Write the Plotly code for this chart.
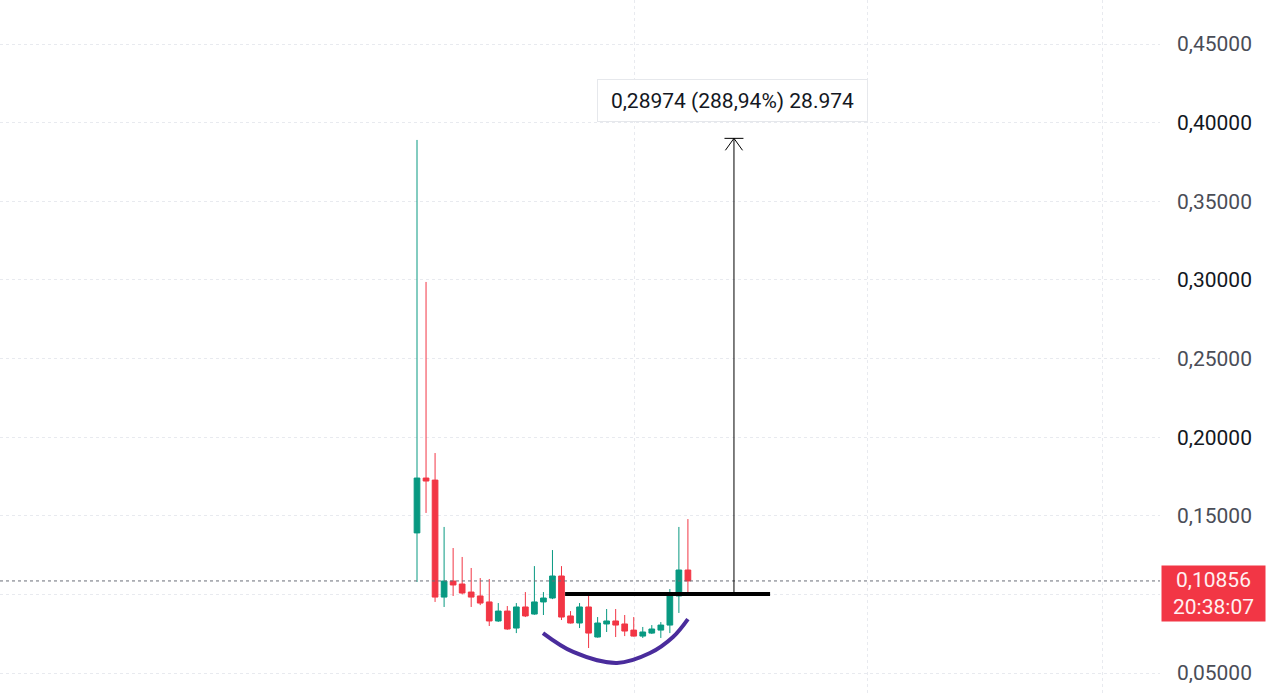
import plotly.graph_objects as go

# candle data (index = bar number)
bar_idx = list(range(31))
open_p = [0.1391, 0.1740, 0.1727, 0.0983, 0.1085, 0.1066, 0.1015, 0.0990, 0.0952, 0.0831,
          0.0894, 0.0786, 0.0920, 0.0875, 0.0952, 0.0977, 0.1117, 0.0863, 0.0818, 0.0920,
          0.0729, 0.0812, 0.0831, 0.0812, 0.0773, 0.0735, 0.0754, 0.0773, 0.0805, 0.0990,
          0.1155]
high_p = [0.3890, 0.2987, 0.1899, 0.1429, 0.1295, 0.1238, 0.1168, 0.1104, 0.1098, 0.0945,
          0.0926, 0.0945, 0.1015, 0.1180, 0.1015, 0.1282, 0.1180, 0.0894, 0.0945, 0.1002,
          0.0856, 0.0907, 0.0907, 0.0869, 0.0856, 0.0793, 0.0805, 0.0824, 0.1034, 0.1429,
          0.1479]
low_p = [0.1079, 0.1518, 0.0952, 0.0920, 0.0990, 0.1000, 0.0920, 0.0932, 0.0799, 0.0825,
         0.0775, 0.0754, 0.0856, 0.0870, 0.0869, 0.0970, 0.0837, 0.0815, 0.0786, 0.0659,
         0.0725, 0.0761, 0.0729, 0.0735, 0.0732, 0.0723, 0.0748, 0.0723, 0.0754, 0.0882,
         0.1009]
close_p = [0.1740, 0.1721, 0.0983, 0.1085, 0.1060, 0.1009, 0.0983, 0.0945, 0.0831, 0.0894,
           0.0780, 0.0920, 0.0863, 0.0952, 0.0977, 0.1117, 0.0856, 0.0818, 0.0920, 0.0754,
           0.0818, 0.0831, 0.0805, 0.0767, 0.0735, 0.0761, 0.0780, 0.0805, 0.0996, 0.1155,
           0.10856]

last_price = 0.10856
last_price_text = "0,10856<br>20:38:07"

# drawings
neckline_x = [16.4, 39.1]
neckline_y = 0.10028
measure_x = 35.1
measure_from = 0.10028
measure_to = 0.39002
measure_text = "0,28974 (288,94%) 28.974"

cup_x = [13.95, 17.3, 22.15, 25.8, 28.35, 30.0]
cup_y = [0.0754, 0.0634, 0.0564, 0.0627, 0.0729, 0.0843]

y_ticks = [0.05, 0.10, 0.15, 0.20, 0.25, 0.30, 0.35, 0.40, 0.45]
# 0,10000 sits behind the last-price label, so it is left blank
y_labels = ["0,05000", "", "0,15000", "0,20000", "0,25000",
            "0,30000", "0,35000", "0,40000", "0,45000"]
x_grid = [24.14, 49.94, 75.86]

green = "#089981"
red = "#F23645"

ticktext = []
for lab in y_labels:
    col = "#131722" if lab in ("0,20000", "0,30000", "0,40000") else "#4a4d57"
    ticktext.append(f'<span style="color:{col}">{lab}</span>' if lab else "")

fig = go.Figure()

fig.add_trace(go.Candlestick(
    x=bar_idx, open=open_p, high=high_p, low=low_p, close=close_p,
    increasing=dict(line=dict(color=green, width=1), fillcolor=green),
    decreasing=dict(line=dict(color=red, width=1), fillcolor=red),
    whiskerwidth=0,
    showlegend=False,
))

fig.add_trace(go.Scatter(
    x=cup_x, y=cup_y, mode="lines",
    line=dict(color="#4a2c9c", width=4, shape="spline"),
    showlegend=False, hoverinfo="skip",
))

# last price dotted line
fig.add_shape(type="line", xref="paper", x0=0, x1=1, y0=last_price, y1=last_price,
              line=dict(color="#6a6d78", width=1, dash="dot"))

# neckline
fig.add_shape(type="line", x0=neckline_x[0], x1=neckline_x[1], y0=neckline_y, y1=neckline_y,
              line=dict(color="black", width=4))

# measure arrow
fig.add_shape(type="line", x0=measure_x, x1=measure_x, y0=measure_from, y1=measure_to,
              line=dict(color="black", width=1))
fig.add_shape(type="line", x0=measure_x - 1.05, x1=measure_x + 1.05, y0=measure_to, y1=measure_to,
              line=dict(color="black", width=1))
fig.add_trace(go.Scatter(
    x=[measure_x - 0.95, measure_x, measure_x + 0.95],
    y=[measure_to - 0.0076, measure_to, measure_to - 0.0076],
    mode="lines", line=dict(color="black", width=1),
    showlegend=False, hoverinfo="skip",
))

fig.add_annotation(
    x=measure_x - 0.2, y=0.4144, text=measure_text, showarrow=False,
    font=dict(family="Roboto", size=21, color="#131722"),
    bgcolor="white", bordercolor="#e6e8ec", borderwidth=1, borderpad=7,
    width=255, height=27,
)

fig.add_annotation(
    xref="paper", x=1, xanchor="left", xshift=1,
    y=last_price, yanchor="top", yshift=16,
    text=last_price_text, showarrow=False, align="center",
    font=dict(family="Roboto", size=21, color="#fff0f1"),
    bgcolor=red, borderpad=3, width=97, height=49,
)

fig.update_layout(
    width=1280, height=693,
    margin=dict(l=0, r=120, t=0, b=0),
    paper_bgcolor="white", plot_bgcolor="white",
    font=dict(family="Roboto"),
    boxgap=0.1,
    hovermode=False,
    xaxis=dict(
        range=[-46.18, 82.28], rangeslider=dict(visible=False),
        tickvals=x_grid, showticklabels=False, ticks="",
        showgrid=True, gridcolor="#e8eaef", griddash="dot", gridwidth=1,
        zeroline=False, showline=False,
    ),
    yaxis=dict(
        range=[0.0373, 0.478], side="right",
        tickvals=y_ticks, ticktext=ticktext, ticks="",
        ticklabelstandoff=16,
        tickfont=dict(family="Roboto", size=21),
        showgrid=True, gridcolor="#e8eaef", griddash="dot", gridwidth=1,
        zeroline=False, showline=False,
    ),
)

fig.write_html("out.html", config={"displayModeBar": False},
               post_script="document.body.style.margin='0';")
